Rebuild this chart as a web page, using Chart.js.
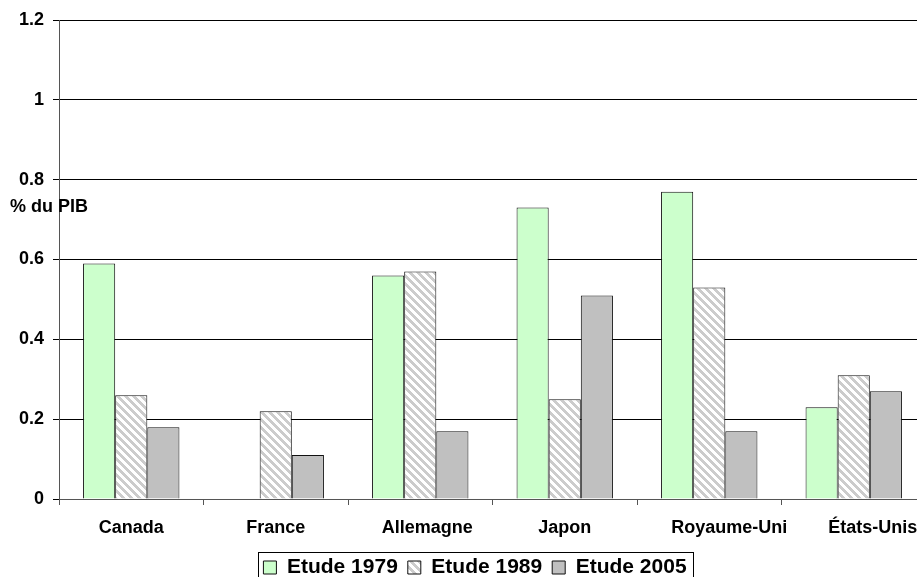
<!DOCTYPE html>
<html>
<head>
<meta charset="utf-8">
<script src="https://cdn.jsdelivr.net/npm/chart.js@4"></script>
<style>
  html, body { margin: 0; padding: 0; overflow: hidden; background: #fff; }
  #wrap { width: 930px; height: 588px; position: relative; }
</style>
</head>
<body>
<div id="wrap"><canvas id="c" width="930" height="588"></canvas></div>
<script>
// Aide publique au développement, en % du PIB, par pays et par étude
const countries = ['Canada', 'France', 'Allemagne', 'Japon', 'Royaume-Uni', 'États-Unis'];
const seriesNames = ['Etude 1979', 'Etude 1989', 'Etude 2005'];
const etude1979 = [0.59, null, 0.56, 0.73, 0.77, 0.23];
const etude1989 = [0.26, 0.22, 0.57, 0.25, 0.53, 0.31];
const etude2005 = [0.18, 0.11, 0.17, 0.51, 0.17, 0.27];
const yTickLabels = ['0', '0.2', '0.4', '0.6', '0.8', '1', '1.2'];
const yTitle = '% du PIB';

// horizontal nudges for the category labels (px)
const labelShift = [0, 0, 7, 0, 20, 19];

const FONT = '"Liberation Sans", Arial, sans-serif';

// light grey diagonal hatch on white
function makeHatch() {
  const n = 8;
  const c = document.createElement('canvas');
  c.width = n; c.height = n;
  const g = c.getContext('2d');
  const img = g.createImageData(n, n);
  for (let y = 0; y < n; y++) {
    for (let x = 0; x < n; x++) {
      const k = ((x - y) % n + n) % n;
      const v = k < 4 ? 204 : 255;
      const i = (y * n + x) * 4;
      img.data[i] = v; img.data[i + 1] = v; img.data[i + 2] = v; img.data[i + 3] = 255;
    }
  }
  g.putImageData(img, 0, 0);
  return g.createPattern(c, 'repeat');
}
const hatch = makeHatch();

const decorations = {
  id: 'decorations',
  afterLayout(chart) {
    // nudge the legend block a little to the right of the canvas centre
    if (chart.legend) chart.legend.left += 24;
  },
  afterDraw(chart) {
    const ctx = chart.ctx;
    const xs = chart.scales.x;
    const area = chart.chartArea;
    ctx.save();
    ctx.fillStyle = '#000';
    ctx.font = 'bold 18px ' + FONT;

    // y-axis title
    ctx.textAlign = 'left';
    ctx.textBaseline = 'middle';
    ctx.fillText(yTitle, 10, 207);

    // category labels
    ctx.textAlign = 'center';
    countries.forEach((name, i) => {
      ctx.fillText(name, xs.getPixelForValue(i) + labelShift[i], area.bottom + 29);
    });

    // frame round the legend
    const hb = chart.legend.legendHitBoxes;
    if (hb && hb.length) {
      const l = Math.round(hb[0].left - 5) + 0.5;
      const last = hb[hb.length - 1];
      const r = Math.round(last.left + last.width + 6) + 0.5;
      const t = Math.round(chart.legend.top + 5) + 0.5;
      ctx.strokeStyle = '#000';
      ctx.lineWidth = 1;
      ctx.strokeRect(l, t, r - l, chart.height + 10 - t);
    }
    ctx.restore();
  }
};

new Chart(document.getElementById('c'), {
  type: 'bar',
  data: {
    labels: countries,
    datasets: [
      { label: seriesNames[0], data: etude1979, backgroundColor: '#ccffcc' },
      { label: seriesNames[1], data: etude1989, backgroundColor: hatch },
      { label: seriesNames[2], data: etude2005, backgroundColor: '#c0c0c0' }
    ]
  },
  options: {
    responsive: false,
    animation: false,
    devicePixelRatio: 1,
    layout: { padding: { top: 20, right: 4, left: 0, bottom: 0 } },
    datasets: {
      bar: {
        borderColor: '#111',
        borderWidth: 1,
        categoryPercentage: 0.667,
        barPercentage: 1.0
      }
    },
    plugins: {
      tooltip: { enabled: false },
      legend: {
        position: 'bottom',
        labels: {
          color: '#000',
          font: { family: FONT, size: 21, weight: 'bold' },
          boxWidth: 13,
          boxHeight: 13,
          padding: 10
        }
      }
    },
    scales: {
      x: {
        grid: { display: true, drawOnChartArea: false, offset: true, color: '#555', tickLength: 6 },
        border: { color: '#555', width: 1 },
        ticks: { display: false },
        afterFit(scale) { scale.height = 48; }
      },
      y: {
        min: 0,
        max: 1.2,
        ticks: {
          stepSize: 0.2,
          color: '#000',
          padding: 9,
          font: { family: FONT, size: 18, weight: 'bold' },
          callback: (value, index) => yTickLabels[index]
        },
        grid: { color: '#000', tickLength: 6, drawTicks: true },
        border: { color: '#555', width: 1 },
        afterFit(scale) { scale.width = 59; }
      }
    }
  },
  plugins: [decorations]
});
</script>
</body>
</html>
